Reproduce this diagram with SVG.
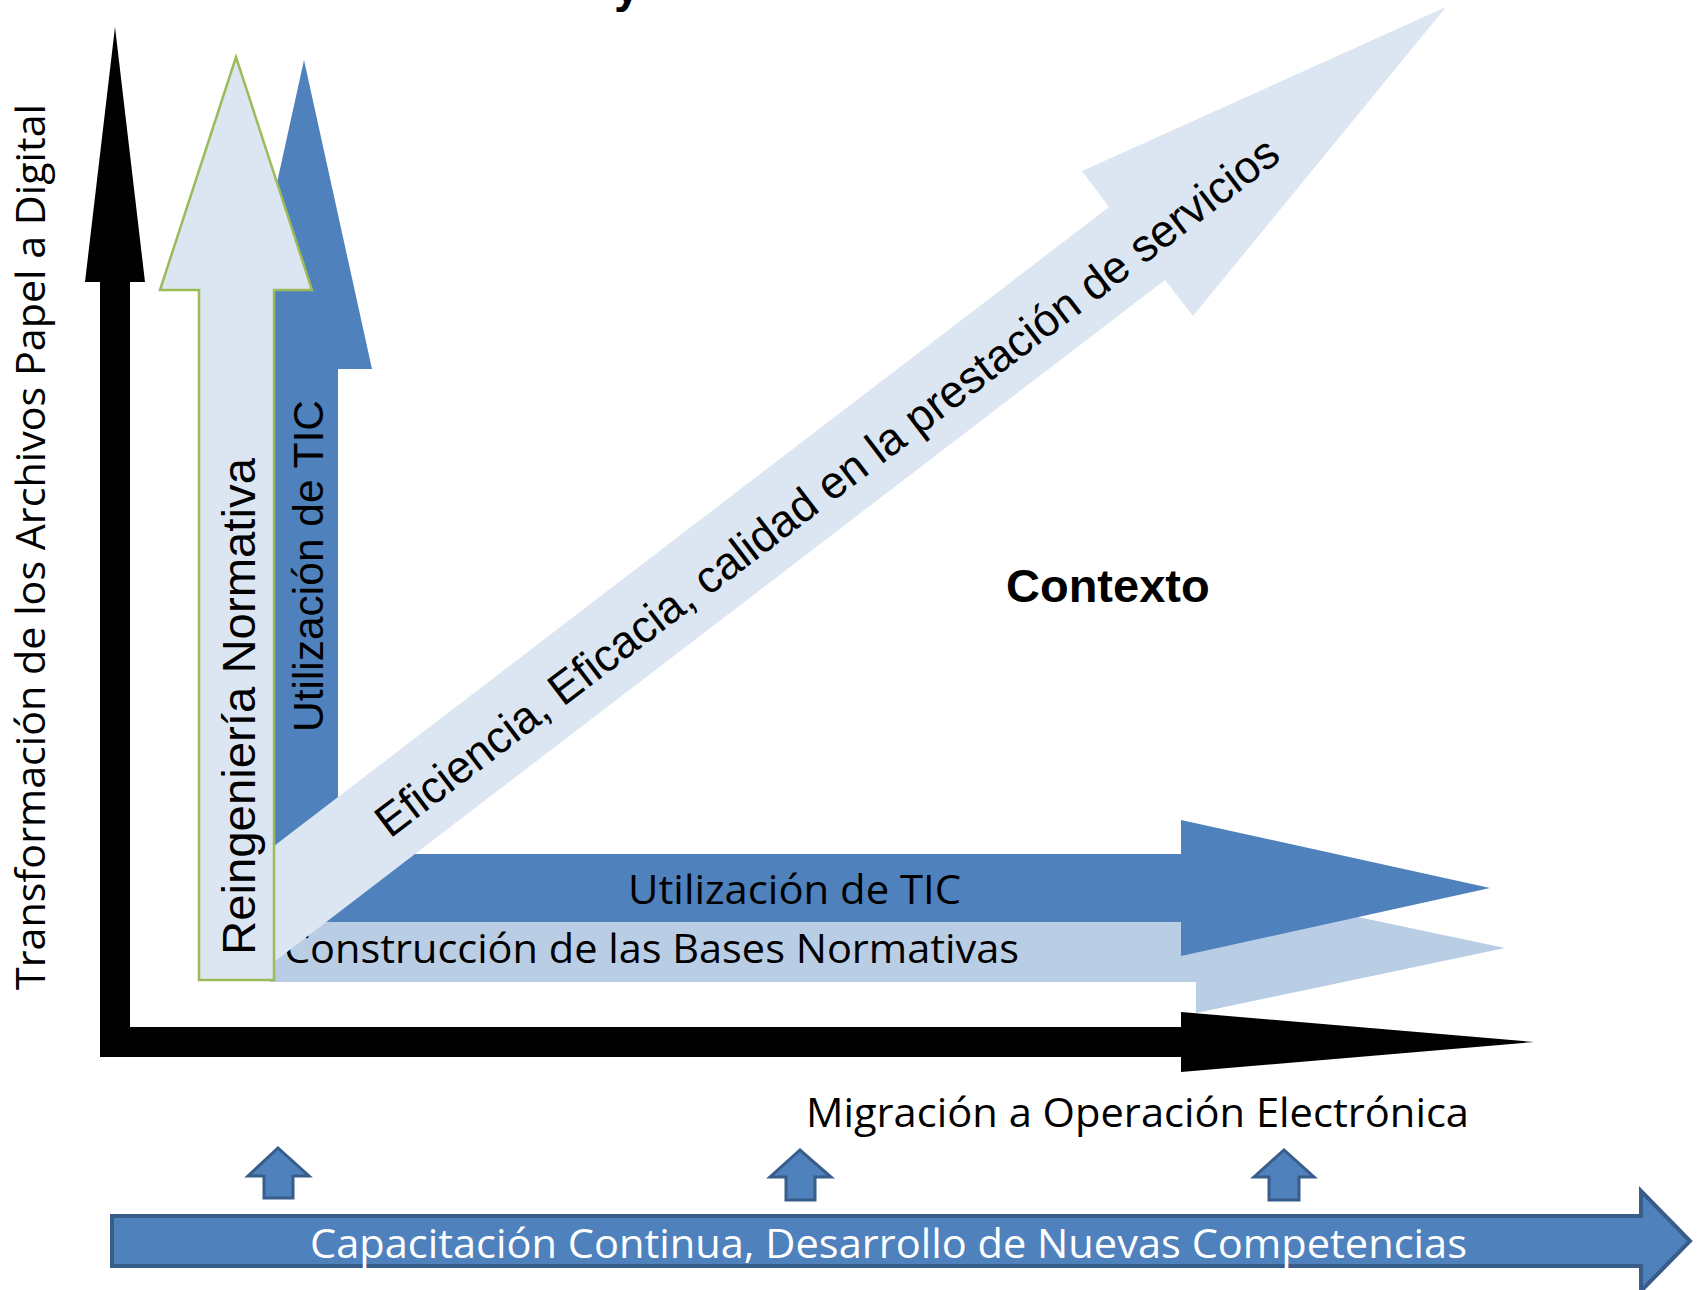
<svg xmlns="http://www.w3.org/2000/svg" width="1704" height="1290" viewBox="0 0 1704 1290">
  <style>
    .arial { font-family: "Liberation Sans", Arial, sans-serif; }
    .cal { font-family: "Open Sans", "Noto Sans", sans-serif; }
    .dark { fill: #4F81BD; }
    .light { fill: #B9CDE5; }
    .pale { fill: #DCE6F2; }
    .blk { fill: #000000; }
    .small { fill: #4F81BD; stroke: #385D8A; stroke-width: 3; stroke-linejoin: miter; }
  </style>

  <g id="title-fragment">
    <text x="614" y="2" class="arial" font-size="47" font-weight="bold" fill="#000">y</text>
  </g>

  <g id="axes">
    <path class="blk" d="M100,1057 L100,282 L85,282 L115,27 L145,282 L130,282 L130,1027 L1181,1027 L1181,1012 L1534,1042 L1181,1072 L1181,1057 Z"/>
  </g>

  <g id="y-axis-label">
    <text class="cal" font-size="40" fill="#000" transform="translate(45,990) rotate(-90)" textLength="886" lengthAdjust="spacingAndGlyphs">Transformación de los Archivos Papel a Digital</text>
  </g>

  <g id="node-construccion">
    <path class="light" d="M270,922 L1196,922 L1196,883 L1505,948 L1196,1013 L1196,982 L270,982 Z"/>
    <text class="cal" x="284" y="963" font-size="41" fill="#000" textLength="735" lengthAdjust="spacingAndGlyphs">Construcción de las Bases Normativas</text>
  </g>

  <g id="node-utilizacion-h">
    <path class="dark" d="M270,854 L1181,854 L1181,820 L1490,888 L1181,956 L1181,922 L270,922 Z"/>
    <text class="cal" x="628" y="904" font-size="41" fill="#000" textLength="333" lengthAdjust="spacingAndGlyphs">Utilización de TIC</text>
  </g>

  <g id="node-utilizacion-v">
    <path class="dark" d="M270,922 L270,369 L236,369 L304,60 L372,369 L338,369 L338,922 Z"/>
    <text class="arial" font-size="42" fill="#000" transform="translate(323,732) rotate(-90)" textLength="332" lengthAdjust="spacingAndGlyphs">Utilización de TIC</text>
  </g>

  <g id="node-eficiencia">
    <path class="pale" d="M274,846 L1109,207 L1082,171 L1446,7 L1193,316 L1165,280 L274,962 Z"/>
    <text class="arial" font-size="45.5" fill="#000" transform="translate(390,839) rotate(-37.3)" textLength="1122" lengthAdjust="spacingAndGlyphs">Eficiencia, Eficacia, calidad en la prestación de servicios</text>
  </g>

  <g id="node-reingenieria">
    <path class="pale" stroke="#9BBB59" stroke-width="2.5" d="M199,980 L199,290 L160,290 L236,57 L312,290 L274,290 L274,980 Z"/>
    <text class="arial" font-size="47" fill="#000" transform="translate(255,955) rotate(-90)" textLength="497" lengthAdjust="spacingAndGlyphs">Reingeniería Normativa</text>
  </g>

  <g id="node-contexto">
    <text class="arial" x="1006" y="602" font-size="47" font-weight="bold" fill="#000">Contexto</text>
  </g>

  <g id="x-axis-label">
    <text class="cal" x="806" y="1127" font-size="41" fill="#000" textLength="663" lengthAdjust="spacingAndGlyphs">Migración a Operación Electrónica</text>
  </g>

  <g id="connectors">
    <path class="small" d="M264,1198 L264,1176 L248,1176 L278,1148 L309,1176 L293,1176 L293,1198 Z"/>
    <path class="small" d="M786,1200 L786,1177 L770,1177 L800,1150 L831,1177 L815,1177 L815,1200 Z"/>
    <path class="small" d="M1269,1200 L1269,1177 L1254,1177 L1284,1150 L1314,1177 L1299,1177 L1299,1200 Z"/>
  </g>

  <g id="node-capacitacion">
    <path fill="#4F81BD" stroke="#385D8A" stroke-width="4" d="M112,1216 L1641,1216 L1641,1191 L1690,1241 L1641,1291 L1641,1266 L112,1266 Z"/>
    <text class="cal" x="310" y="1258" font-size="41" fill="#FFFFFF" textLength="1157" lengthAdjust="spacingAndGlyphs">Capacitación Continua, Desarrollo de Nuevas Competencias</text>
  </g>
</svg>
